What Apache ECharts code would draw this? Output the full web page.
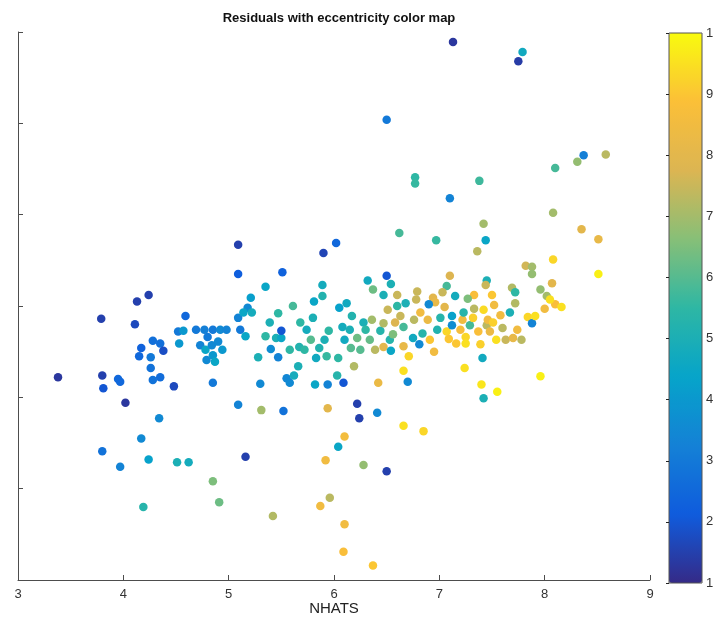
<!DOCTYPE html>
<html>
<head>
<meta charset="utf-8">
<script src="https://cdn.jsdelivr.net/npm/echarts@6/dist/echarts.min.js"></script>
<style>html,body{margin:0;padding:0;background:#fff}#c{width:717px;height:622px}</style>
</head>
<body>
<div id="c"></div>
<script>
var xTicks = [3, 4, 5, 6, 7, 8, 9];
var cbTickLabels = ['1','2','3','4','5','6','7','8','9','1'];
var nhats = [3.38,3.79,3.80,3.81,3.95,3.97,4.02,4.34,4.17,3.80,3.97,4.24,4.51,4.62,4.19,4.13,4.24,4.11,4.17,4.15,
4.28,4.35,4.38,4.26,4.26,4.28,4.35,4.48,4.52,4.53,5.09,5.09,5.51,5.35,5.21,5.18,5.90,6.02,5.89,5.89,
5.81,5.61,7.13,6.50,6.77,6.77,7.38,7.10,6.62,6.97,7.42,7.44,7.36,6.50,6.32,6.54,6.37,7.10,7.07,7.45,
7.44,6.47,6.60,6.79,6.94,6.96,7.33,7.50,7.27,6.12,6.90,6.68,7.79,7.75,8.37,8.31,8.58,8.10,8.08,8.35,
8.51,8.08,7.82,7.88,7.88,8.51,7.69,7.72,7.96,8.10,8.16,8.00,
4.59,4.57,4.69,4.77,4.80,4.85,4.92,4.98,4.73,4.78,4.84,4.90,4.94,4.85,4.79,4.87,5.09,5.11,5.14,5.22,
5.16,5.09,5.16,4.85,4.85,4.91,5.31,5.42,5.52,5.28,5.30,5.35,5.45,5.50,5.40,5.47,5.50,5.58,5.55,5.58,
5.62,5.66,5.67,5.72,5.68,5.74,5.78,5.80,5.83,5.86,5.82,5.94,5.93,5.91,5.95,6.05,6.08,6.04,6.03,6.09,
6.10,6.15,6.16,6.17,6.22,6.25,6.28,6.30,6.19,6.22,6.24,5.94,6.10,6.04,5.92,6.28,5.96,5.87,6.10,6.09,
6.37,6.50,6.41,6.42,6.39,6.34,6.36,6.44,6.47,6.47,6.51,6.53,6.54,6.56,6.58,6.60,6.63,6.66,6.66,6.70,
6.66,6.66,6.85,6.71,6.75,6.76,6.78,6.81,6.82,6.84,6.89,6.91,6.95,6.98,7.03,7.01,7.05,7.07,7.09,7.12,
7.12,7.15,7.16,7.20,7.22,7.23,7.25,7.25,7.24,7.29,7.32,7.33,7.37,7.39,7.41,7.40,7.42,7.42,7.45,7.46,
7.48,7.51,7.52,7.54,7.55,7.58,7.60,7.63,7.67,7.72,7.74,7.70,7.78,7.84,7.88,7.91,7.96,8.07,8.02,8.05,
5.47,5.39];
var resid = [2.22,2.86,2.24,2.10,2.20,2.17,1.94,1.77,1.55,1.41,1.24,1.32,1.29,1.29,0.80,3.05,3.12,2.80,2.54,2.45,
2.62,2.59,2.51,2.44,2.32,2.19,2.22,2.12,2.72,2.59,3.67,3.35,3.37,3.21,3.09,2.98,3.58,3.69,3.23,3.11,
3.05,3.00,5.89,5.04,4.41,4.34,4.37,4.18,3.80,3.72,3.90,3.72,3.60,3.33,3.28,3.24,3.18,3.33,3.22,3.28,
3.23,3.12,3.12,3.16,3.09,3.04,3.12,3.12,3.08,3.03,3.02,3.03,5.78,5.68,4.65,4.58,4.66,4.51,4.02,3.84,
3.73,3.51,3.44,3.43,3.35,3.35,3.20,3.15,3.18,3.02,2.99,2.97,
2.89,2.73,2.74,2.74,2.66,2.74,2.74,2.74,2.57,2.52,2.57,2.61,2.52,2.46,2.41,2.39,2.87,2.74,2.93,2.93,
2.67,1.92,1.35,2.16,1.08,0.85,1.86,0.70,1.85,2.44,2.15,2.67,2.65,2.65,2.53,2.44,2.73,2.52,2.21,2.16,
2.24,2.34,2.55,2.52,2.82,2.74,2.63,2.87,2.43,2.54,2.14,2.14,2.45,2.63,2.73,2.98,2.77,2.43,2.24,2.16,
2.63,2.74,2.54,2.89,2.65,2.52,2.82,2.74,2.34,1.93,1.77,1.88,1.57,1.46,1.31,1.26,0.90,0.81,0.61,0.31,
0.16,1.19,1.83,2.16,2.52,2.63,2.85,2.73,2.55,2.81,2.96,2.63,2.51,2.69,2.82,3.00,2.89,2.56,2.77,2.17,
2.29,1.69,1.63,2.45,2.65,2.85,3.07,2.58,2.93,2.70,2.85,2.63,2.50,2.74,3.15,2.87,2.99,2.72,2.64,2.89,
2.79,3.11,2.59,2.74,2.85,2.93,2.66,2.59,2.32,2.79,2.87,2.97,2.72,2.58,2.43,2.14,1.99,2.96,2.79,2.85,
2.72,2.82,3.01,2.63,2.06,2.90,2.76,2.63,2.93,3.03,2.74,2.65,2.63,2.88,2.81,2.89,2.23,3.25,3.11,3.07,
2.92,2.82];
var ecc = [1.3,1.5,1.5,2.0,2.5,2.5,1.3,3.5,3.5,2.8,3.3,4.3,5.0,4.8,5.3,1.5,1.5,1.7,2.3,2.5,
2.7,2.7,1.8,3.0,2.8,2.8,2.6,1.7,3.0,4.0,1.5,2.2,2.3,4.5,4.2,3.5,1.6,2.5,4.8,5.2,
4.5,5.8,1.3,3.0,5.5,5.6,5.7,3.3,5.8,5.6,7.0,4.5,7.3,2.0,4.7,5.0,6.3,7.8,5.8,5.0,
7.5,5.0,7.5,7.5,8.0,8.2,8.8,9.0,6.5,4.7,3.5,5.0,4.7,1.4,3.2,6.8,7.3,5.8,7.0,8.0,
8.2,9.3,7.6,7.0,6.8,9.8,7.2,5.5,6.8,8.8,9.5,8.5,
2.5,4.0,3.0,3.2,3.0,3.0,3.5,3.3,3.3,4.5,3.5,3.5,4.0,4.0,3.5,4.5,3.3,3.0,4.5,4.8,
4.5,3.3,1.5,3.0,6.5,6.3,7.0,7.2,2.8,5.0,3.5,5.5,5.0,4.5,3.6,3.3,2.0,5.5,3.4,3.5,
4.8,5.0,5.2,5.5,5.5,4.8,6.0,5.0,4.7,5.2,4.5,3.3,5.6,5.0,5.5,4.3,4.8,5.5,5.3,2.0,
4.7,5.0,6.0,5.2,6.3,6.0,5.0,5.5,7.2,1.5,1.5,8.0,8.6,4.5,8.5,6.8,7.3,8.5,8.5,8.8,
9.0,1.5,3.5,8.3,7.3,6.2,7.0,5.3,8.0,7.2,7.5,5.3,4.5,6.5,7.8,5.5,7.5,8.2,5.8,3.5,
9.5,9.5,9.3,9.3,4.7,7.3,7.5,3.5,8.5,5.3,8.3,9.0,8.5,5.2,7.5,5.3,8.0,9.3,9.0,4.3,
3.6,4.8,9.0,8.7,8.5,5.3,9.3,9.5,9.5,5.8,9.2,7.3,8.8,9.2,4.7,9.6,5.0,9.4,7.3,8.5,
8.3,9.2,8.5,9.5,9.8,8.5,7.3,7.5,5.0,7.2,8.5,8.2,7.3,9.3,3.3,9.5,9.8,8.0,7.0,9.5,
5.5,5.0];

var parula = ['#352a87','#0f5cdd','#1481d6','#06a4ca','#2eb7a4','#87bf77','#dcb552','#fbbf38','#f9fb0e'];
var pts = nhats.map(function(x, i){ return [x, resid[i], ecc[i]]; });

var chart = echarts.init(document.getElementById('c'), null, {renderer:'canvas'});
var axisCol = '#4d4d4d';
var lblFont = '"Liberation Sans Narrow","Liberation Sans",Arial,sans-serif';
chart.setOption({
  backgroundColor: '#ffffff',
  animation: false,
  title: {
    text: 'Residuals with eccentricity color map',
    left: 334, top: 7, textAlign: 'center',
    textStyle: {fontFamily: '"Liberation Sans",Arial,sans-serif', fontWeight: 'bold', fontSize: 13, color: '#111'}
  },
  grid: [
    {left: 18, right: 67, top: 32, bottom: 42, show: false, containLabel: false, outerBoundsMode: 'none'},
    {left: 669, width: 33, top: 33, height: 550, show: true, borderColor: '#555', borderWidth: 1, backgroundColor: 'transparent', z: 10, containLabel: false, outerBoundsMode: 'none'}
  ],
  xAxis: [
    {gridIndex: 0, type: 'value', min: 3, max: 9, interval: 1,
     axisLine: {show: true, lineStyle: {color: axisCol, width: 1}},
     axisTick: {show: true, inside: true, length: 5, lineStyle: {color: axisCol}},
     axisLabel: {show: true, margin: 8, fontSize: 13, color: '#333', fontFamily: lblFont,
       formatter: function(v){ return xTicks.indexOf(v) >= 0 ? String(v) : ''; }},
     splitLine: {show: false},
     name: 'NHATS', nameLocation: 'middle', nameGap: 21, nameMoveOverlap: false,
     nameTextStyle: {fontSize: 15, color: '#222', fontFamily: lblFont}
    },
    {gridIndex: 1, type: 'value', min: 0, max: 1, show: false, z: 10}
  ],
  yAxis: [
    {gridIndex: 0, type: 'value', min: 0, max: 6, interval: 1,
     axisLine: {show: true, lineStyle: {color: axisCol, width: 1}},
     axisTick: {show: true, inside: true, length: 5, lineStyle: {color: axisCol}},
     axisLabel: {show: false},
     splitLine: {show: false}
    },
    {gridIndex: 1, type: 'value', min: 1, max: 10, interval: 1, position: 'right', z: 10,
     axisLine: {show: false},
     axisTick: {show: true, inside: true, length: 3, lineStyle: {color: '#222'}},
     axisLabel: {show: true, margin: 4, fontSize: 13, color: '#333', fontFamily: lblFont,
       formatter: function(v){ return cbTickLabels[Math.round(v) - 1] || ''; }},
     splitLine: {show: false}
    }
  ],
  visualMap: {
    type: 'continuous', min: 1, max: 10, dimension: 2, seriesIndex: 0,
    orient: 'vertical', left: 669, top: 33, itemWidth: 33, itemHeight: 550,
    padding: 0, calculable: false, realtime: false, text: null, showLabel: false,
    inRange: {color: parula}, z: 2
  },
  series: [{
    type: 'scatter', xAxisIndex: 0, yAxisIndex: 0,
    symbol: 'circle', symbolSize: 8.5,
    data: pts,
    itemStyle: {opacity: 1}
  }]
});
</script>
</body>
</html>
